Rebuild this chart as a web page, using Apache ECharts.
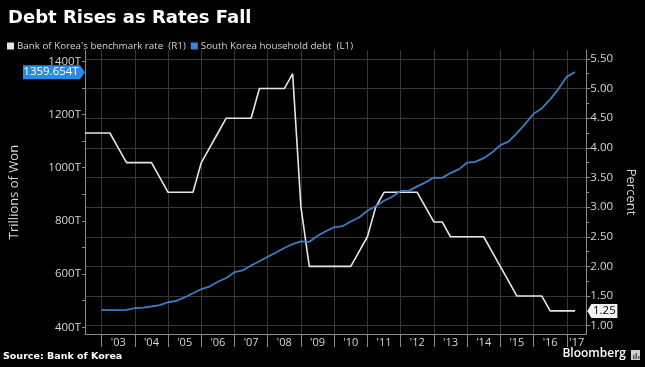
<!DOCTYPE html>
<html>
<head>
<meta charset="utf-8">
<script src="https://cdn.jsdelivr.net/npm/echarts@6/dist/echarts.min.js"></script>
<style>
html,body{margin:0;padding:0;background:#000;}
#c{width:645px;height:367px;}
</style>
</head>
<body>
<div id="c"></div>
<script>
// ---- data ----
const titleText = 'Debt Rises as Rates Fall';
const rateName = "Bank of Korea's benchmark rate  (R1)";
const debtName = 'South Korea household debt  (L1)';
const sourceText = 'Source: Bank of Korea';

const rateQuarters = ['2002Q2','2002Q3','2002Q4','2003Q1','2003Q2','2003Q3','2003Q4','2004Q1','2004Q2','2004Q3','2004Q4',
  '2005Q1','2005Q2','2005Q3','2005Q4','2006Q1','2006Q2','2006Q3','2006Q4','2007Q1','2007Q2','2007Q3','2007Q4',
  '2008Q1','2008Q2','2008Q3','2008Q4','2009Q1','2009Q2','2009Q3','2009Q4','2010Q1','2010Q2','2010Q3','2010Q4',
  '2011Q1','2011Q2','2011Q3','2011Q4','2012Q1','2012Q2','2012Q3','2012Q4','2013Q1','2013Q2','2013Q3','2013Q4',
  '2014Q1','2014Q2','2014Q3','2014Q4','2015Q1','2015Q2','2015Q3','2015Q4','2016Q1','2016Q2','2016Q3','2016Q4','2017Q1'];
const rateValues = [4.25,4.25,4.25,4.25,4.00,3.75,3.75,3.75,3.75,3.50,3.25,
  3.25,3.25,3.25,3.75,4.00,4.25,4.50,4.50,4.50,4.50,5.00,5.00,
  5.00,5.00,5.25,3.00,2.00,2.00,2.00,2.00,2.00,2.00,2.25,2.50,
  3.00,3.25,3.25,3.25,3.25,3.25,3.00,2.75,2.75,2.50,2.50,2.50,
  2.50,2.50,2.25,2.00,1.75,1.50,1.50,1.50,1.50,1.25,1.25,1.25,1.25];

const debtQuarters = ['2002Q4','2003Q1','2003Q2','2003Q3','2003Q4','2004Q1','2004Q2','2004Q3','2004Q4',
  '2005Q1','2005Q2','2005Q3','2005Q4','2006Q1','2006Q2','2006Q3','2006Q4','2007Q1','2007Q2','2007Q3','2007Q4',
  '2008Q1','2008Q2','2008Q3','2008Q4','2009Q1','2009Q2','2009Q3','2009Q4','2010Q1','2010Q2','2010Q3','2010Q4',
  '2011Q1','2011Q2','2011Q3','2011Q4','2012Q1','2012Q2','2012Q3','2012Q4','2013Q1','2013Q2','2013Q3','2013Q4',
  '2014Q1','2014Q2','2014Q3','2014Q4','2015Q1','2015Q2','2015Q3','2015Q4','2016Q1','2016Q2','2016Q3','2016Q4','2017Q1'];
const debtValues = [465,464,464,465,472,474,478,483,494,
  499,512,528,543,553,571,585,607,614,632,648,665,
  681,698,713,723,721,744,761,776,780,798,813,838,
  855,876,891,913,913,930,945,963,962,980,994,1019,
  1022,1036,1057,1085,1098,1130,1165,1203,1223,1257,1296,1342,1359.654];

const yearTicks = [2003,2004,2005,2006,2007,2008,2009,2010,2011,2012,2013,2014,2015,2016,2017];
const yearLabelPos = [2003.5,2004.5,2005.5,2006.5,2007.5,2008.5,2009.5,2010.5,2011.5,2012.5,2013.5,2014.5,2015.5,2016.5,2017.3];
const leftLabels = [400,600,800,1000,1200,1400];
const leftTicks = [400,500,600,700,800,900,1000,1100,1200,1300,1400];
const rightLabels = [1.0,1.5,2.0,2.5,3.0,3.5,4.0,4.5,5.0,5.5];
const rightMinorTicks = [1.25,1.75,2.25,2.75,3.25,3.75,4.25,4.75,5.25];

// axis ranges
const xMin = 2002.5, xMax = 2017.59;
const leftMin = 374.5, leftMax = 1443;
const rightMin = 0.86, rightMax = 5.65;

function qToYear(q){ const y = +q.slice(0,4), n = +q.slice(5); return y + n/4; }

const rateData = rateQuarters.map((q,i)=>[qToYear(q), rateValues[i]]);
const debtData = debtQuarters.map((q,i)=>[qToYear(q), debtValues[i]]);

const FONT = '"Open Sans", sans-serif';
const axisGray = '#8a8a8a';
const gridGray = '#383838';
const labelCol = '#d6d6d6';

const chart = echarts.init(document.getElementById('c'), null, {renderer:'canvas'});
const option = {
  backgroundColor: '#000',
  animation: false,
  title: {
    text: titleText, left: 3, top: 4,
    textStyle: {color:'#fff', fontFamily:'"DejaVu Sans"', fontWeight:'bold', fontSize:18}
  },
  legend: {
    left: 2, top: 36, itemWidth: 7, itemHeight: 7, itemGap: 5, icon: 'rect',
    data: [rateName, debtName],
    textStyle: {color: labelCol, fontFamily: FONT, fontSize: 9.8, padding:[0,0,0,-2]}
  },
  grid: {left: 83, right: 49, top: 50, bottom: 33},
  xAxis: {
    type: 'value', min: xMin, max: xMax,
    axisLine: {show:true, lineStyle:{color: axisGray, width:1}},
    axisTick: {show:true, customValues: yearTicks, length: 13, lineStyle:{color: axisGray}},
    splitLine: {show:true, lineStyle:{color: gridGray, width:1}},
    axisLabel: {customValues: yearLabelPos, color: labelCol, fontFamily: FONT, fontSize: 11, margin: 3,
      formatter: v => "'" + String(Math.floor(v)).slice(2)}
  },
  yAxis: [
    {
      type: 'value', position: 'left', min: leftMin, max: leftMax,
      name: 'Trillions of Won', nameLocation: 'middle', nameRotate: 90, nameGap: 64,
      nameTextStyle: {color: labelCol, fontFamily: FONT, fontSize: 13},
      axisLine: {show:true, lineStyle:{color: axisGray}},
      axisTick: {show:true, customValues: leftTicks, length: 3, lineStyle:{color: axisGray}},
      splitLine: {show:false},
      axisLabel: {customValues: leftLabels, color: labelCol, fontFamily: FONT, fontSize: 11.5, margin: 4,
        formatter: v => v + 'T'}
    },
    {
      type: 'value', position: 'right', min: rightMin, max: rightMax,
      name: 'Percent', nameLocation: 'middle', nameRotate: -90, nameGap: 36,
      nameTextStyle: {color: labelCol, fontFamily: FONT, fontSize: 13},
      axisLine: {show:true, lineStyle:{color: axisGray}},
      axisTick: {show:true, customValues: rightLabels, length: 4, lineStyle:{color: axisGray}},
      splitLine: {show:true, lineStyle:{color: gridGray, width:1}},
      axisLabel: {customValues: rightLabels, color: labelCol, fontFamily: FONT, fontSize: 11.5, margin: 4,
        formatter: v => v.toFixed(2)}
    },
    {
      type: 'value', position: 'right', min: rightMin, max: rightMax,
      axisLine: {show:false},
      axisTick: {show:true, customValues: rightMinorTicks, length: 3, lineStyle:{color: axisGray}},
      splitLine: {show:false},
      axisLabel: {show:false}
    }
  ],
  series: [
    {
      name: rateName, type: 'line', yAxisIndex: 1, data: rateData,
      showSymbol: false, symbol: 'none', color: '#e6e6e6',
      lineStyle: {color:'#e6e6e6', width: 1.6}, z: 2
    },
    {
      name: debtName, type: 'line', yAxisIndex: 0, data: debtData,
      showSymbol: false, symbol: 'none', color: '#3a86d6',
      lineStyle: {color:'#3b7ec6', width: 1.8}, z: 3
    }
  ]
};
chart.setOption(option);

// value tags on axes, positioned through the chart's own scales
const yD = chart.convertToPixel({yAxisIndex:0}, debtValues[debtValues.length-1]);
const yR = chart.convertToPixel({yAxisIndex:1}, rateValues[rateValues.length-1]);
const xL = chart.convertToPixel({xAxisIndex:0}, xMin);
const xR = chart.convertToPixel({xAxisIndex:0}, xMax);
const h = 7;
chart.setOption({
  graphic: [
    {type:'polygon', shape:{points:[[xL-62,yD-h],[xL-5,yD-h],[xL,yD],[xL-5,yD+h],[xL-62,yD+h]]},
      style:{fill:'#2b8ae4'}, z: 100},
    {type:'text', x: xL-34, y: yD, style:{text: debtValues[debtValues.length-1].toFixed(3)+'T', fill:'#fff',
      font: '11.5px "Open Sans"', textAlign:'center', textVerticalAlign:'middle'}, z: 101},
    {type:'polygon', shape:{points:[[xR+1,yR],[xR+5,yR-h],[xR+31,yR-h],[xR+31,yR+h],[xR+5,yR+h]]},
      style:{fill:'#f2f2f2'}, z: 100},
    {type:'text', x: xR+18, y: yR, style:{text: rateValues[rateValues.length-1].toFixed(2), fill:'#000',
      font: '11.5px "Open Sans"', textAlign:'center', textVerticalAlign:'middle'}, z: 101},
    {type:'text', left: 3, top: 352, style:{text: sourceText, fill:'#fff',
      font: 'bold 9.5px "DejaVu Sans"'}},
    {type:'text', right: 19, top: 348, style:{text: 'Bloomberg', fill:'#fff',
      font: '600 12px "Open Sans"'}},
    {type:'rect', shape:{x:631, y:350, width:9, height:10}, style:{fill:'#cfcfcf'}},
    {type:'rect', shape:{x:633, y:355, width:1.5, height:4}, style:{fill:'#555'}},
    {type:'rect', shape:{x:635.5, y:353, width:1.5, height:6}, style:{fill:'#555'}},
    {type:'rect', shape:{x:638, y:356, width:1.5, height:3}, style:{fill:'#555'}}
  ]
});
</script>
</body>
</html>
